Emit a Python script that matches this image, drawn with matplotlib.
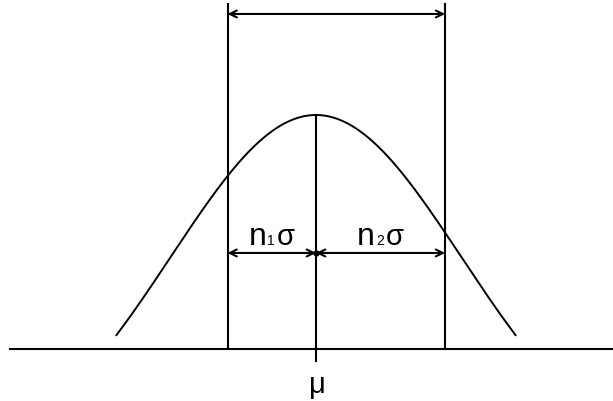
import numpy as np
import matplotlib
matplotlib.use("Agg")
import matplotlib.pyplot as plt
from matplotlib.transforms import offset_copy

plt.rcParams['font.family'] = ['Liberation Sans', 'DejaVu Sans']

# Bell curve of a normal distribution, x measured in units of sigma from the mean
mu = 0.0
n1 = 0.61          # left limit at mu - n1*sigma
n2 = 0.89          # right limit at mu + n2*sigma
curve_span = 1.38  # curve drawn over mu +/- curve_span*sigma
peak_height = 1.0  # height of the curve at mu above the axis line
tail_offset = -0.538  # level the bell tends to far out in the tails

axis_extent = (-2.11, 2.06)
limit_top = 1.474
top_arrow_y = 1.432
mid_arrow_y = 0.41
center_drop = -0.051

mu_label = "μ"
sigma_label = "σ"
left_sub, right_sub = "1", "2"

fig = plt.figure(figsize=(6.13, 4.02), dpi=100)
ax = fig.add_axes([0, 0, 1, 1])
ax.set_xlim(-2.179, 2.048)
ax.set_ylim(-0.223, 1.496)
ax.axis('off')

lw = 1.5
x = np.linspace(mu - curve_span, mu + curve_span, 400)
y = tail_offset + (peak_height - tail_offset) * np.exp(-0.5 * (x - mu) ** 2)
ax.plot(x, y, color='black', lw=1.4, solid_capstyle='butt')

# horizontal axis
ax.plot(axis_extent, [0, 0], color='black', lw=lw)

# limit lines and centre line
for xv in (mu - n1, mu + n2):
    ax.plot([xv, xv], [0, limit_top], color='black', lw=lw)
ax.plot([mu, mu], [center_drop, peak_height], color='black', lw=lw)

arrow_kw = dict(arrowstyle='<->,head_length=0.5,head_width=0.25', color='black',
                lw=lw, shrinkA=0, shrinkB=0)
ax.annotate('', xy=(mu - n1, top_arrow_y), xytext=(mu + n2, top_arrow_y), arrowprops=arrow_kw)
ax.annotate('', xy=(mu - n1, mid_arrow_y), xytext=(mu, mid_arrow_y), arrowprops=arrow_kw)
ax.annotate('', xy=(mu, mid_arrow_y), xytext=(mu + n2, mid_arrow_y), arrowprops=arrow_kw)
ax.plot([mu], [mid_arrow_y], 'o', color='black', ms=3.5)

renderer = fig.canvas.get_renderer()


def spacing_label(xc, sub):
    """Write n, a small index and sigma side by side, centred above the arrow at xc."""
    pieces = [('n', 23), (sub, 10), (sigma_label, 21)]
    gaps = [1, 2]
    texts = []
    for s, fs in pieces:
        t = ax.text(xc, mid_arrow_y, s, fontsize=fs, ha='left', va='baseline')
        texts.append(t)
    widths = [t.get_window_extent(renderer).width for t in texts]
    total = sum(widths) + sum(gaps)
    cursor = -total / 2
    for i, t in enumerate(texts):
        t.set_transform(offset_copy(ax.transData, fig=fig, x=cursor, y=9, units='dots'))
        cursor += widths[i] + (gaps[i] if i < len(gaps) else 0)


spacing_label(mu - n1 / 2, left_sub)
spacing_label(mu + n2 / 2, right_sub)

ax.text(mu, 0, mu_label, ha='center', va='baseline', fontsize=21,
        transform=offset_copy(ax.transData, fig=fig, x=1, y=-43, units='dots'))

fig.savefig('out.png', dpi=100)
